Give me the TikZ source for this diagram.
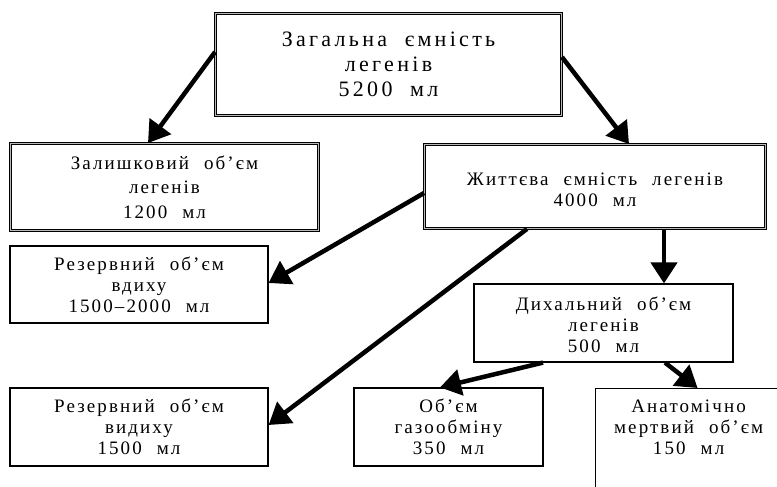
\documentclass[tikz,border=0pt]{standalone}
\usepackage{fontspec}
\setmainfont{Liberation Serif}
\newfontfamily\spacedbig{Liberation Serif}[LetterSpace=15, WordSpace=2.0]
\newfontfamily\spacedmid{Liberation Serif}[LetterSpace=11, WordSpace=2.2]
\usetikzlibrary{arrows.meta,calc}
\begin{document}
\begin{tikzpicture}[x=1pt,y=-1pt,
  box/.style={rectangle, inner sep=0pt, align=center},
  dbox/.style={box, draw=black, line width=0.9pt, double=gray!55, double distance=1.4pt},
  sbox/.style={box, draw=black, line width=1.2pt},
  big/.style={font=\spacedbig\fontsize{22}{25}\selectfont},
  mid/.style={font=\spacedmid\fontsize{19}{21}\selectfont},
  midwide/.style={font=\spacedmid\fontsize{19}{24.5}\selectfont},
  flow/.style={line width=4.5pt, -{Triangle[length=21pt,width=26pt]}}
]
\useasboundingbox (0,0) rectangle (777,487);

% boxes
\node[dbox, big, minimum width=346pt, minimum height=102pt] (top) at (388.5,64.5)
  {Загальна ємність\\легенів\\5200 мл};
\node[dbox, midwide, minimum width=308pt, minimum height=87pt] (rest) at (164.5,187)
  {Залишковий об’єм\\легенів\\1200 мл};
\node[dbox, mid, minimum width=341pt, minimum height=84pt] (vital) at (595,186.5)
  {\rule{0pt}{20pt}Життєва ємність легенів\\4000 мл};
\node[sbox, mid, minimum width=258pt, minimum height=77pt] (insp) at (139,284.5)
  {Резервний об’єм\\вдиху\\1500–2000 мл};
\node[sbox, mid, minimum width=259pt, minimum height=78pt] (tidal) at (603.5,323)
  {\rule{0pt}{17pt}Дихальний об’єм\\легенів\\500 мл};
\node[sbox, mid, minimum width=258pt, minimum height=78pt] (exp) at (139,427)
  {Резервний об’єм\\видиху\\1500 мл};
\node[sbox, mid, minimum width=189pt, minimum height=78pt] (gas) at (448.5,427)
  {Об’єм\\газообміну\\350 мл};
\node[sbox, minimum width=186pt, minimum height=120pt, anchor=north west] (anat) at (595,388) {};
\node[box, mid, anchor=north] (anattext) at ([yshift=-12pt]anat.north)
  {Анатомічно\\мертвий об’єм\\150 мл};

% connectors
\draw[flow] ([yshift=12.5pt]top.west) -- ([xshift=-16.5pt]rest.north);
\draw[flow] ([yshift=7.5pt]top.east) -- ([xshift=34pt]vital.north);
\draw[flow] ([yshift=-6.5pt]vital.west) -- ([yshift=1.5pt]insp.east);
\draw[flow] ([xshift=-68pt]vital.south) -- ([yshift=2pt]exp.east);
\draw[flow] ([xshift=69pt]vital.south) -- ([xshift=60.5pt]tidal.north);
\draw[flow] ([xshift=-60.5pt]tidal.south) -- ([xshift=-8.5pt]gas.north);
\draw[flow] ([xshift=61.5pt]tidal.south) -- ([xshift=9pt]anat.north);
\end{tikzpicture}
\end{document}
